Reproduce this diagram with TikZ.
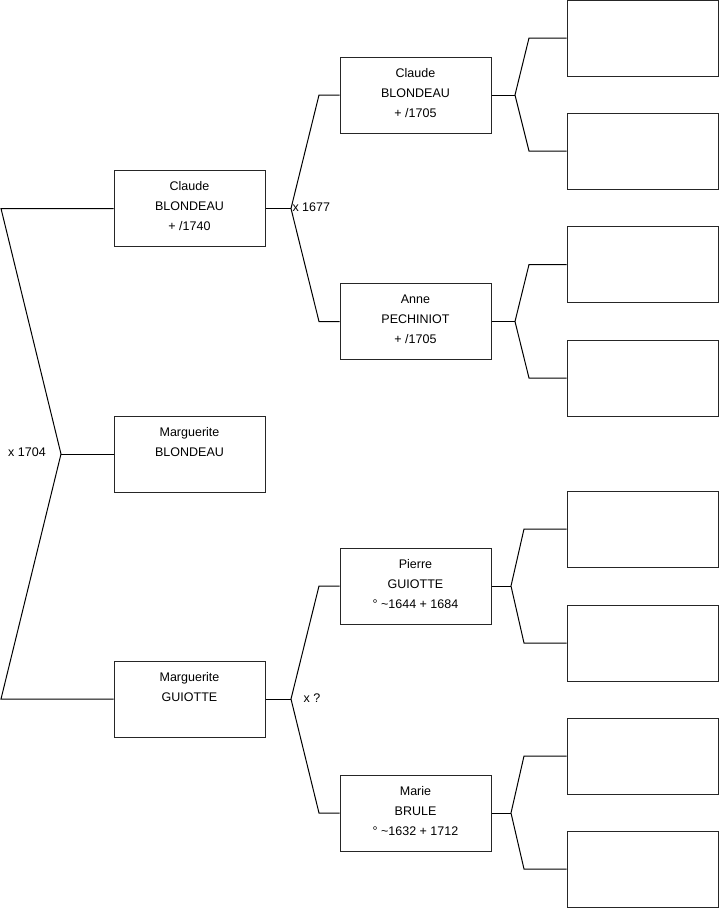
\documentclass[tikz,border=0pt]{standalone}
\usepackage{fontspec}
\setmainfont{Liberation Sans}
\begin{document}
\begin{tikzpicture}[x=1pt,y=-1pt,line width=1pt,
  box/.style={draw=black!85,rectangle,minimum width=151pt,minimum height=76pt,inner sep=0pt},
  txt/.style={anchor=north,align=center,inner sep=0pt,font=\fontsize{12.5}{20}\selectfont},
  lbl/.style={inner sep=0pt,font=\fontsize{12.5}{20}\selectfont},
  conn/.style={draw=black}]
\useasboundingbox (0,0) rectangle (719,908);
% left column
\node[box] (b1) at (189.5,208.5) {};
\node[box] (b2) at (189.5,454) {};
\node[box] (b3) at (189.5,699) {};
% middle column
\node[box] (m1) at (415.5,95) {};
\node[box] (m2) at (415.5,321.5) {};
\node[box] (m3) at (415.5,586) {};
\node[box] (m4) at (415.5,813) {};
% right column
\node[box] (r1) at (642.5,38) {};
\node[box] (r2) at (642.5,151) {};
\node[box] (r3) at (642.5,264.5) {};
\node[box] (r4) at (642.5,378) {};
\node[box] (r5) at (642.5,529) {};
\node[box] (r6) at (642.5,643) {};
\node[box] (r7) at (642.5,756) {};
\node[box] (r8) at (642.5,869) {};
% texts
\node[txt] (t1) at ([yshift=-11pt]b1.north) {Claude\\BLONDEAU\\+ /1740};
\node[txt] (t2) at ([yshift=-11pt]b2.north) {Marguerite\\BLONDEAU};
\node[txt] (t3) at ([yshift=-11pt]b3.north) {Marguerite\\GUIOTTE};
\node[txt] (t4) at ([yshift=-11pt]m1.north) {Claude\\BLONDEAU\\+ /1705};
\node[txt] (t5) at ([yshift=-11pt]m2.north) {Anne\\PECHINIOT\\+ /1705};
\node[txt] (t6) at ([yshift=-11pt]m3.north) {Pierre\\GUIOTTE\\° \textasciitilde1644 + 1684};
\node[txt] (t7) at ([yshift=-11pt]m4.north) {Marie\\BRULE\\° \textasciitilde1632 + 1712};
% left connectors
\coordinate (L1) at (1,208.5);
\coordinate (J0) at (61,454);
\coordinate (L3) at (1,699);
\draw[conn] (b1.west) -- (L1) -- (J0) -- (L3) -- (b3.west);
\draw[conn] (J0) -- (b2.west);
\node[lbl] (x1704) at (27,452) {x 1704};
% b1 connectors
\coordinate (J1) at (291,208.5);
\coordinate (J1a) at (319,95);
\coordinate (J1b) at (319,321.5);
\draw[conn] (b1.east) -- (J1);
\draw[conn] (m1.west) -- (J1a) -- (J1) -- (J1b) -- (m2.west);
\node[lbl,anchor=west] (x1677) at (292,207) {x 1677};
% b3 connectors
\coordinate (J2) at (291,699);
\coordinate (J2a) at (319,586);
\coordinate (J2b) at (319,813);
\draw[conn] (b3.east) -- (J2);
\draw[conn] (m3.west) -- (J2a) -- (J2) -- (J2b) -- (m4.west);
\node[lbl] (xq) at (312,698) {x ?};
% right connectors
\coordinate (K1) at (515,95);
\draw[conn] (m1.east) -- (K1);
\draw[conn] (r1.west) -- (529,38) -- (K1) -- (529,151) -- (r2.west);
\coordinate (K2) at (515,321.5);
\draw[conn] (m2.east) -- (K2);
\draw[conn] (r3.west) -- (529,264.5) -- (K2) -- (529,378) -- (r4.west);
\coordinate (K3) at (511,586);
\draw[conn] (m3.east) -- (K3);
\draw[conn] (r5.west) -- (524,529) -- (K3) -- (524,643) -- (r6.west);
\coordinate (K4) at (511,813);
\draw[conn] (m4.east) -- (K4);
\draw[conn] (r7.west) -- (524,756) -- (K4) -- (524,869) -- (r8.west);
\end{tikzpicture}
\end{document}
